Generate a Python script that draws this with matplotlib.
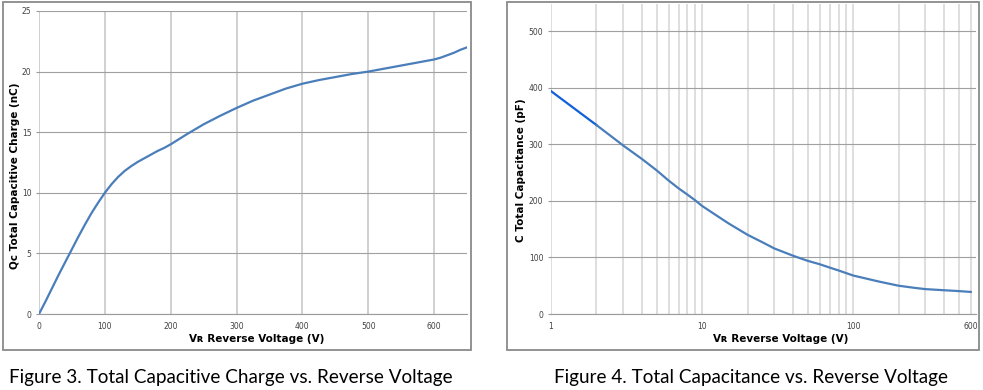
import matplotlib.pyplot as plt
from matplotlib.patches import Rectangle
from matplotlib.ticker import LogLocator, NullFormatter

# Figure 3 data: total capacitive charge vs reverse voltage
vr_charge = [0, 10, 20, 30, 40, 50, 60, 70, 80, 90, 100, 110, 120, 130, 140, 150,
             160, 170, 180, 190, 200, 225, 250, 275, 300, 325, 350, 375, 400, 425,
             450, 475, 500, 525, 550, 575, 600, 610, 620, 630, 640, 650]
qc = [0, 1.05, 2.15, 3.25, 4.3, 5.35, 6.4, 7.4, 8.35, 9.2, 10.0, 10.7, 11.3, 11.8,
      12.2, 12.55, 12.85, 13.15, 13.45, 13.7, 14.0, 14.85, 15.65, 16.35, 17.0, 17.6,
      18.1, 18.6, 19.0, 19.3, 19.55, 19.8, 20.0, 20.25, 20.5, 20.75, 21.0, 21.15,
      21.35, 21.55, 21.8, 22.0]
charge_xticks = [0, 100, 200, 300, 400, 500, 600]
charge_yticks = [0, 5, 10, 15, 20, 25]

# Figure 4 data: total capacitance vs reverse voltage (log x)
vr_cap = [1, 2, 3, 4, 5, 6, 7, 8, 9, 10, 12, 15, 20, 25, 30, 40, 50, 60, 70, 80,
          100, 150, 200, 250, 300, 400, 500, 600]
cap = [394, 334, 298, 274, 254, 236, 222, 211, 201, 191, 177, 160, 140, 127, 116,
       103, 94, 88, 82, 77, 68, 57, 50, 46.5, 44, 42, 40.5, 39]
cap_xticks = [1, 10, 100, 600]
cap_yticks = [0, 100, 200, 300, 400, 500]

line_color = "#4a7ebb"
tick_color = "#404040"
W, H = 983, 390

fig = plt.figure(figsize=(W / 100, H / 100), dpi=100)


def box(x0, y0, x1, y1):
    # pixel coords (top-left origin) -> figure fraction
    return [x0 / W, 1 - y1 / H, (x1 - x0) / W, (y1 - y0) / H]


# outer frames
for x0, y0, x1, y1 in [(3, 2, 471, 350), (507, 2, 979, 350)]:
    fig.patches.append(Rectangle((x0 / W, 1 - y1 / H), (x1 - x0) / W, (y1 - y0) / H,
                                 transform=fig.transFigure, fill=False,
                                 edgecolor="#8a8a8a", linewidth=1.3))

# ---- left chart ----
ax1 = fig.add_axes(box(39, 11, 467, 314))
ax1.plot(vr_charge, qc, color=line_color, linewidth=1.6)
ax1.set_xlim(0, 650)
ax1.set_ylim(0, 25)
ax1.set_xticks(charge_xticks)
ax1.set_yticks(charge_yticks)
ax1.grid(axis="y", color="#a0a0a0", linewidth=0.8)
ax1.grid(axis="x", color="#c4c4c4", linewidth=1.1)
for s in ["top", "right", "left"]:
    ax1.spines[s].set_visible(False)
ax1.spines["bottom"].set_color("#9a9a9a")
ax1.tick_params(axis="y", length=2.5, color="#9a9a9a", pad=3,
                labelsize=5.5, labelcolor=tick_color)
ax1.tick_params(axis="x", length=0, pad=6, labelsize=5.5, labelcolor=tick_color)
ax1.set_axisbelow(True)

# ---- right chart ----
ax2 = fig.add_axes(box(551, 4, 976, 314))
ax2.plot(vr_cap[:2], cap[:2], color="#1060d8", linewidth=1.6)
ax2.plot(vr_cap[1:], cap[1:], color=line_color, linewidth=1.6)
ax2.set_xscale("log")
ax2.set_xlim(1, 650)
ax2.set_ylim(0, 548)
ax2.set_xticks(cap_xticks)
ax2.set_xticklabels([str(v) for v in cap_xticks])
ax2.xaxis.set_minor_locator(LogLocator(base=10, subs=range(2, 10)))
ax2.xaxis.set_minor_formatter(NullFormatter())
ax2.set_yticks(cap_yticks)
ax2.grid(axis="y", color="#a0a0a0", linewidth=0.8)
ax2.grid(axis="x", which="both", color="#d4d4d4", linewidth=1.1)
for s in ["top", "right", "left"]:
    ax2.spines[s].set_visible(False)
ax2.spines["bottom"].set_color("#9a9a9a")
ax2.tick_params(axis="y", length=2.5, color="#9a9a9a", pad=3,
                labelsize=5.5, labelcolor=tick_color)
ax2.tick_params(axis="x", which="both", length=0, pad=6,
                labelsize=5.5, labelcolor=tick_color)
ax2.set_axisbelow(True)

# axis titles
fig.text(15 / W, 1 - 176 / H, "Qc Total Capacitive Charge (nC)", rotation=90,
         ha="center", va="center", fontsize=7.5, fontweight="bold")
fig.text(521 / W, 1 - 170 / H, "C Total Capacitance (pF)", rotation=90,
         ha="center", va="center", fontsize=7.5, fontweight="bold")
fig.text(257 / W, 1 - 339 / H, "V\u0280 Reverse Voltage (V)",
         ha="center", va="center", fontsize=7.5, fontweight="bold")
fig.text(781 / W, 1 - 339 / H, "V\u0280 Reverse Voltage (V)",
         ha="center", va="center", fontsize=7.5, fontweight="bold")

# captions
fig.text(231 / W, 1 - 377 / H, "Figure 3. Total Capacitive Charge vs. Reverse Voltage",
         ha="center", va="center", fontsize=13.6, family="Lato")
fig.text(751 / W, 1 - 377 / H, "Figure 4. Total Capacitance vs. Reverse Voltage",
         ha="center", va="center", fontsize=13.6, family="Lato")

fig.savefig("out.png", dpi=100, facecolor="white")
